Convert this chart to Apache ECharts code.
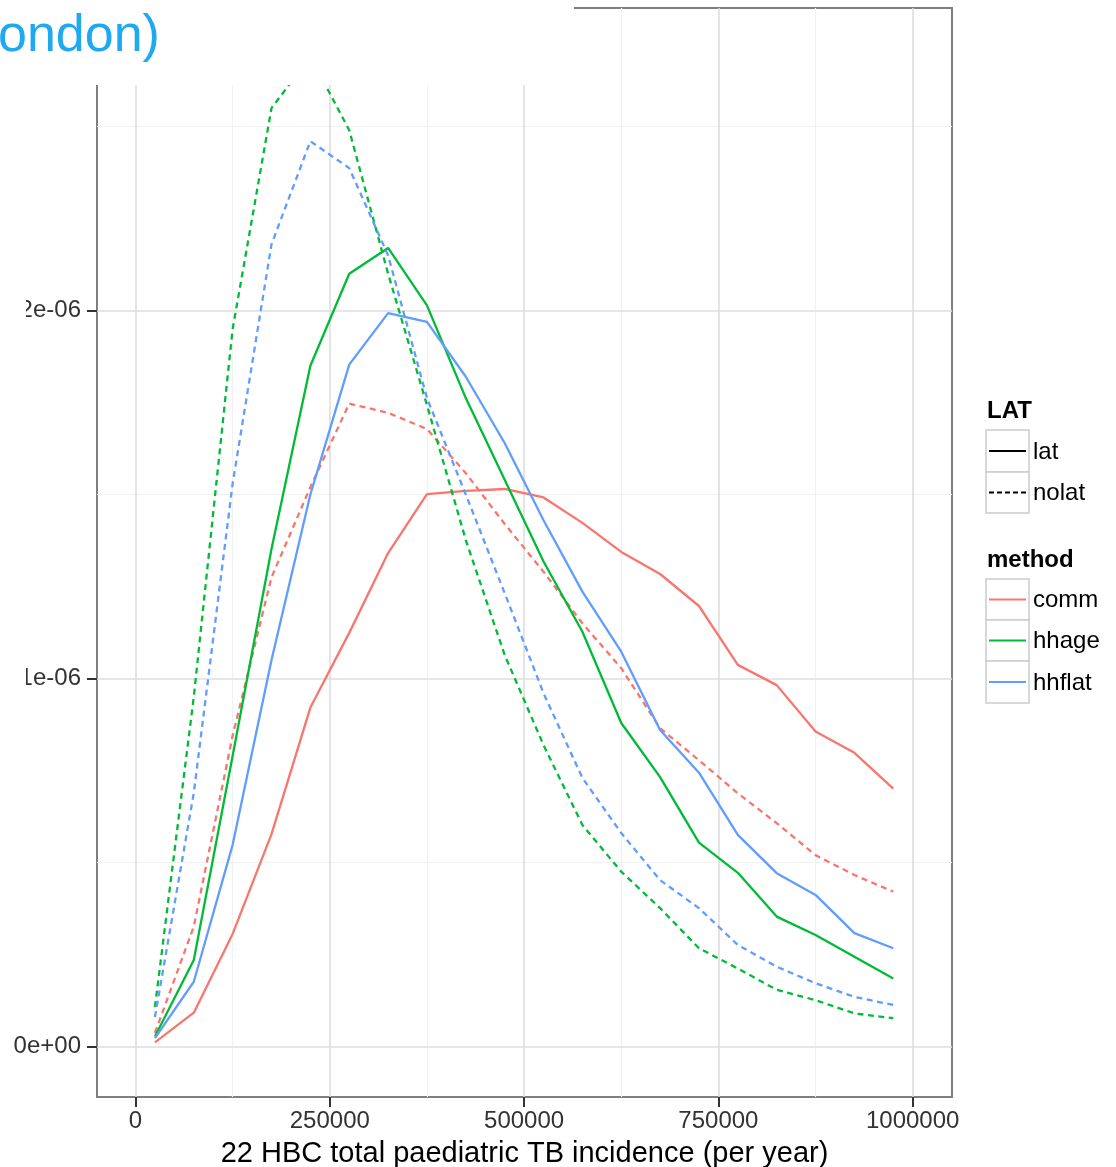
<!DOCTYPE html>
<html><head><meta charset="utf-8">
<script src="https://cdn.jsdelivr.net/npm/echarts@6/dist/echarts.min.js"></script>
<style>html,body{margin:0;padding:0;background:#fff}#c{width:1116px;height:1167px}</style>
</head><body><div id="c"></div>
<script>
// x: 22 HBC total paediatric TB incidence (per year)
const incidence = [25000, 75000, 125000, 175000, 225000, 275000, 325000, 375000, 425000, 475000,
                   525000, 575000, 625000, 675000, 725000, 775000, 825000, 875000, 925000, 975000];
// y values in units of 1e-06
const commLat     = [0.011,0.092,0.306,0.577,0.921,1.124,1.341,1.501,1.510,1.515,1.492,1.423,1.344,1.284,1.197,1.037,0.982,0.856,0.798,0.701];
const commNolat   = [0.037,0.326,0.845,1.275,1.520,1.747,1.722,1.678,1.558,1.420,1.290,1.150,1.028,0.865,0.778,0.688,0.607,0.520,0.466,0.421];
const hhageLat    = [0.027,0.235,0.790,1.352,1.850,2.100,2.170,2.014,1.762,1.540,1.318,1.127,0.879,0.732,0.554,0.472,0.353,0.303,0.244,0.185];
const hhageNolat  = [0.107,0.950,1.950,2.550,2.690,2.490,2.100,1.743,1.376,1.064,0.819,0.602,0.475,0.376,0.267,0.212,0.154,0.126,0.090,0.077];
const hhflatLat   = [0.023,0.176,0.548,1.050,1.500,1.853,1.993,1.969,1.820,1.640,1.430,1.236,1.073,0.860,0.744,0.575,0.471,0.412,0.308,0.267];
const hhflatNolat = [0.080,0.689,1.530,2.180,2.460,2.387,2.150,1.762,1.500,1.232,0.960,0.730,0.580,0.452,0.376,0.276,0.217,0.172,0.135,0.113];

const xTicks = [0, 250000, 500000, 750000, 1000000];
const xMinor = [125000, 375000, 625000, 875000];
const yTicks = [0, 1, 2];
const yMinor = [0.5, 1.5, 2.5];
const yTickLabels = ['0e+00', '1e-06', '2e-06'];
const latLevels = ['lat', 'nolat'];
const methodLevels = ['comm', 'hhage', 'hhflat'];
const methodColors = ['#F8766D', '#00BA38', '#619CFF'];

const FONT = '"Liberation Sans", Arial, sans-serif';
const pair = ys => incidence.map((x, i) => [x, ys[i]]);

const seriesDefs = [
  { name: 'comm lat', data: commLat, m: 0, dashed: false },
  { name: 'comm nolat', data: commNolat, m: 0, dashed: true },
  { name: 'hhage lat', data: hhageLat, m: 1, dashed: false },
  { name: 'hhage nolat', data: hhageNolat, m: 1, dashed: true },
  { name: 'hhflat lat', data: hhflatLat, m: 2, dashed: false },
  { name: 'hhflat nolat', data: hhflatNolat, m: 2, dashed: true }
];

const major = { color: '#dedede', width: 1.6, type: 'solid' };
const minor = { color: '#f1f1f1', width: 1.2, type: 'solid' };
const gridLines = [
  ...xMinor.map(v => ({ xAxis: v, lineStyle: minor })),
  ...yMinor.map(v => ({ yAxis: v, lineStyle: minor })),
  ...xTicks.map(v => ({ xAxis: v, lineStyle: major })),
  ...yTicks.map(v => ({ yAxis: v, lineStyle: major }))
];

const series = [{
  type: 'line', data: [], silent: true, z: 1,
  markLine: { silent: true, symbol: 'none', z: 1, animation: false, label: { show: false },
              emphasis: { disabled: true }, data: gridLines }
}].concat(seriesDefs.map(s => ({
  name: s.name, type: 'line', data: pair(s.data), showSymbol: false, z: 3,
  lineStyle: { color: methodColors[s.m], width: 2.3, type: s.dashed ? [6, 4.5] : 'solid' },
  itemStyle: { color: methodColors[s.m] }, clip: true, silent: true
})));

// legend (drawn as graphics)
const gfx = [];
const keyX = 986, keyW = 43;
function legendTitle(t, y) {
  gfx.push({ type: 'text', x: 987, y: y, z: 50,
    style: { text: t, font: 'bold 24px ' + FONT, fill: '#000', verticalAlign: 'middle', align: 'left' } });
}
function legendKey(y, h, label, color, dashed) {
  gfx.push({ type: 'rect', z: 50, shape: { x: keyX, y: y, width: keyW, height: h },
    style: { fill: '#fff', stroke: '#cccccc', lineWidth: 1.5 } });
  gfx.push({ type: 'line', z: 51, shape: { x1: keyX + 3, y1: y + h / 2, x2: keyX + keyW - 3, y2: y + h / 2 },
    style: { stroke: color, lineWidth: 2.2, lineDash: dashed ? [5, 3] : null } });
  gfx.push({ type: 'text', x: 1033, y: y + h / 2 + 1, z: 51,
    style: { text: label, font: '24px ' + FONT, fill: '#000', verticalAlign: 'middle', align: 'left' } });
}
legendTitle('LAT', 411);
legendKey(430, 42, latLevels[0], '#000', false);
legendKey(472, 41, latLevels[1], '#000', true);
legendTitle('method', 560);
legendKey(579, 41, methodLevels[0], methodColors[0], false);
legendKey(620, 41, methodLevels[1], methodColors[1], false);
legendKey(661, 42, methodLevels[2], methodColors[2], false);

// slide overlay (white cover + title fragment)
gfx.push({ type: 'rect', z: 100, shape: { x: 0, y: 0, width: 574, height: 85 }, style: { fill: '#fff' } });
gfx.push({ type: 'rect', z: 100, shape: { x: 0, y: 280, width: 26, height: 440 }, style: { fill: '#fff' } });
gfx.push({ type: 'text', x: -2, y: 37, z: 101,
  style: { text: 'ondon)', font: '52px ' + FONT, fill: '#1FA9F0', verticalAlign: 'middle', align: 'left' } });

const chart = echarts.init(document.getElementById('c'), null, { renderer: 'canvas' });
chart.setOption({
  animation: false,
  backgroundColor: '#fff',
  grid: { left: 97, top: 8, width: 855, height: 1089, show: true, backgroundColor: '#fff',
          borderColor: '#7f7f7f', borderWidth: 2, containLabel: false, outerBoundsMode: 'none' },
  xAxis: {
    type: 'value', min: -49537, max: 1050566,
    axisLine: { show: false, onZero: false },
    splitLine: { show: false },
    axisTick: { show: true, customValues: xTicks, length: 10, lineStyle: { color: '#333', width: 2 } },
    axisLabel: { customValues: xTicks, formatter: v => String(v), margin: 12,
                 fontSize: 24, fontFamily: FONT, color: '#333' },
    name: '22 HBC total paediatric TB incidence (per year)',
    nameLocation: 'middle', nameGap: 38,
    nameTextStyle: { fontSize: 29, fontFamily: FONT, color: '#000', lineHeight: 32 }
  },
  yAxis: {
    type: 'value', min: -0.1372, max: 2.822,
    axisLine: { show: false, onZero: false },
    splitLine: { show: false },
    axisTick: { show: true, customValues: yTicks, length: 10, lineStyle: { color: '#333', width: 2 } },
    axisLabel: { customValues: yTicks, formatter: v => yTickLabels[yTicks.indexOf(v)] || '', margin: 16,
                 fontSize: 24, fontFamily: FONT, color: '#333' }
  },
  graphic: gfx,
  series: series
});
</script></body></html>
